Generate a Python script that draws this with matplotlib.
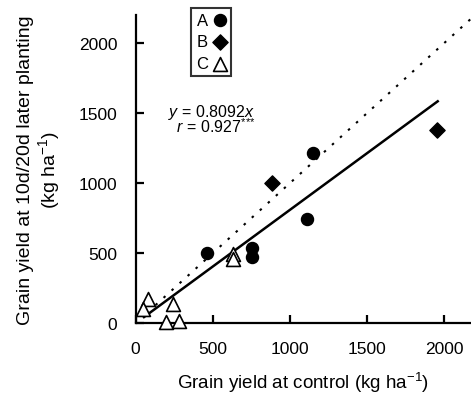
import numpy as np
import matplotlib.pyplot as plt

plt.rcParams['font.family'] = ['Liberation Sans', 'DejaVu Sans']
plt.rcParams['mathtext.fontset'] = 'custom'
plt.rcParams['mathtext.rm'] = 'Liberation Sans'
plt.rcParams['mathtext.it'] = 'Liberation Sans:italic'

# data (kg/ha)
a_x = [466, 758, 758, 1112, 1150]
a_y = [500, 536, 476, 745, 1216]
b_x = [886, 1956]
b_y = [1000, 1381]
c_x = [83, 51, 241, 198, 280, 635, 635]
c_y = [174, 102, 138, 7, 19, 495, 459]

slope = 0.8092
fit_range = [55, 1960]
one_to_one = [130, 2200]
ticks = [0, 500, 1000, 1500, 2000]

fig = plt.figure(figsize=(4.71, 4.02), dpi=100)
ax = fig.add_axes([0.2877, 0.1933, 0.712, 0.766])

ax.plot(one_to_one, one_to_one, color='black', lw=1.5, linestyle=(0, (1.2, 4)))
fx = np.array(fit_range)
ax.plot(fx, slope * fx, color='black', lw=1.8)

ax.scatter(a_x, a_y, marker='o', s=75, color='black', label='A', zorder=3, clip_on=False)
ax.scatter(b_x, b_y, marker='D', s=60, color='black', label='B', zorder=3, clip_on=False)
ax.scatter(c_x, c_y, marker='^', s=100, facecolor='white', edgecolor='black',
           linewidth=1.2, label='C', zorder=3, clip_on=False)

ax.set_xlim(0, 2175)
ax.set_ylim(0, 2200)
ax.set_xticks(ticks)
ax.set_yticks(ticks)
for s in ['top', 'right']:
    ax.spines[s].set_visible(False)
for s in ['left', 'bottom']:
    ax.spines[s].set_linewidth(1.6)
ax.tick_params(direction='in', length=6, width=1.6, labelsize=12.5, pad=13)

ax.set_xlabel('Grain yield at control (kg ha$^{-1}$)', fontsize=13.5, labelpad=10)
ax.set_ylabel('Grain yield at 10d/20d later planting\n(kg ha$^{-1}$)', fontsize=14,
              labelpad=12, linespacing=1.1)

# regression equation, both lines in one text
ax.text(211, 1364, '$\\mathit{y}$ = 0.8092$\\mathit{x}$\n  $\\mathit{r}$ = 0.927$^{{*}{*}{*}}$',
        fontsize=11.5, va='baseline', ha='left', linespacing=0.75)

leg = ax.legend(loc='upper left', bbox_to_anchor=(0.165, 1.025), markerfirst=False,
                frameon=True, fancybox=False, fontsize=12, handlelength=0.8,
                handletextpad=0.3, borderpad=0.3, labelspacing=0.4, borderaxespad=0)
leg.get_frame().set_edgecolor('black')
leg.get_frame().set_linewidth(1.5)

fig.savefig('out.png', dpi=100)
